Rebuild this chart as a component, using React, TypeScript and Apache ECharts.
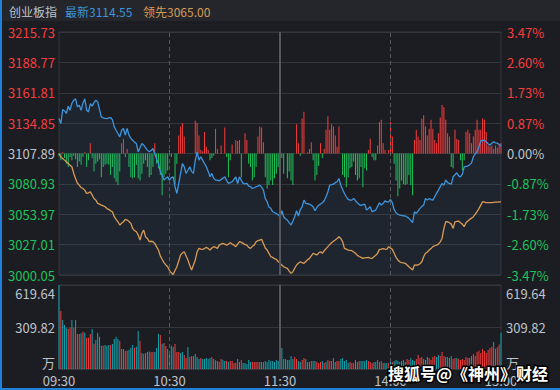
import React, { useEffect, useRef } from 'react';
import * as echarts from 'echarts';

// ---------- data ----------
const stockName = '创业板指';
const latestValue = '3114.55';
const leadValue = '3065.00';

const priceMin = 3000.05;
const priceMax = 3215.73;
const preClose = 3107.89;
const volMax = 619.64;

const leftTickLabels = ['3000.05', '3027.01', '3053.97', '3080.93', '3107.89', '3134.85', '3161.81', '3188.77', '3215.73'];
const rightTickLabels = ['-3.47%', '-2.60%', '-1.73%', '-0.87%', '0.00%', '0.87%', '1.73%', '2.60%', '3.47%'];
const volTickLabels = ['万', '309.82', '619.64'];

// minute categories 09:30..11:30, 13:01..15:00
const minutes: string[] = [];
for (let i = 0; i <= 120; i++) {
  const t = 9 * 60 + 30 + i;
  minutes.push(String(Math.floor(t / 60)).padStart(2, '0') + ':' + String(t % 60).padStart(2, '0'));
}
for (let i = 1; i <= 120; i++) {
  const t = 13 * 60 + i;
  minutes.push(String(Math.floor(t / 60)).padStart(2, '0') + ':' + String(t % 60).padStart(2, '0'));
}

const priceLine = [
  3138.9, 3134.5, 3146.9, 3145.7, 3143.4, 3150.0, 3146.3, 3152.5, 3155.2, 3156.4,
  3149.3, 3150.8, 3146.3, 3152.8, 3156.4, 3146.3, 3144.8, 3152.2, 3149.9, 3153.0,
  3155.2, 3153.7, 3146.9, 3140.4, 3139.5, 3139.0, 3138.9, 3139.5, 3139.8, 3138.0,
  3131.5, 3128.5, 3125.6, 3122.7, 3128.6, 3130.1, 3124.2, 3130.1, 3124.2, 3121.5,
  3119.7, 3118.0, 3116.8, 3109.4, 3113.0, 3116.8, 3115.3, 3113.0, 3110.9, 3109.4,
  3110.5, 3112.3, 3107.9, 3103.0, 3099.0, 3092.0, 3088.7, 3084.3, 3086.0, 3087.2,
  3084.3, 3086.5, 3087.2, 3078.4, 3072.4, 3081.3, 3090.0, 3099.0, 3096.1, 3090.2,
  3093.0, 3096.1, 3092.0, 3090.2, 3102.0, 3109.4, 3102.0, 3105.0, 3102.0, 3099.0,
  3096.1, 3092.0, 3087.2, 3090.2, 3086.0, 3084.3, 3084.3, 3083.5, 3084.9, 3086.0,
  3087.2, 3084.0, 3081.3, 3082.0, 3082.8, 3085.0, 3087.2, 3081.3, 3087.2, 3084.0,
  3081.3, 3081.0, 3081.3, 3079.0, 3078.4, 3076.9, 3077.5, 3078.4, 3079.0, 3079.8,
  3078.0, 3075.4, 3068.0, 3065.1, 3060.5, 3059.2, 3056.2, 3055.5, 3054.7, 3053.5,
  3051.8, 3057.1, 3051.8, 3050.0, 3048.8, 3046.5, 3044.4, 3048.0, 3051.8, 3057.1,
  3052.4, 3058.0, 3060.6, 3066.5, 3063.6, 3063.3, 3063.0, 3062.0, 3060.6, 3057.1,
  3060.0, 3062.0, 3063.0, 3064.2, 3066.0, 3069.5, 3073.9, 3079.8, 3080.2, 3080.7,
  3082.0, 3082.8, 3085.7, 3079.8, 3076.0, 3072.4, 3069.5, 3067.1, 3066.5, 3066.5,
  3068.0, 3066.0, 3064.2, 3062.5, 3061.8, 3062.5, 3063.0, 3057.7, 3059.0, 3060.6,
  3056.2, 3057.0, 3057.7, 3061.0, 3064.2, 3062.1, 3063.5, 3065.9, 3065.0, 3065.0,
  3067.1, 3064.2, 3058.0, 3055.3, 3054.0, 3053.2, 3053.0, 3052.6, 3052.4, 3051.5,
  3050.3, 3048.5, 3046.5, 3056.2, 3054.7, 3057.0, 3059.2, 3061.0, 3062.1, 3068.0,
  3066.5, 3068.0, 3067.0, 3066.5, 3069.5, 3072.5, 3075.4, 3078.5, 3081.3, 3079.8,
  3084.3, 3082.0, 3081.3, 3080.7, 3087.2, 3089.0, 3090.8, 3088.0, 3087.2, 3089.6,
  3096.1, 3096.5, 3096.7, 3098.0, 3099.6, 3105.0, 3107.5, 3109.4, 3113.8, 3119.1,
  3119.5, 3119.7, 3118.2, 3116.5, 3115.3, 3117.0, 3118.2, 3117.4, 3117.0, 3116.0,
  3114.55,
];

const leadLine = [
  3107.9, 3104.9, 3103.5, 3102.0, 3100.5, 3099.0, 3097.5, 3096.1, 3090.2, 3085.7,
  3081.5, 3079.8, 3077.5, 3076.9, 3075.4, 3072.4, 3073.0, 3073.9, 3071.0, 3068.0,
  3066.5, 3063.6, 3063.0, 3062.1, 3061.5, 3060.6, 3059.0, 3058.3, 3057.0, 3056.2,
  3051.8, 3049.5, 3047.3, 3044.4, 3046.0, 3047.3, 3049.4, 3048.8, 3047.5, 3045.9,
  3041.4, 3039.5, 3038.5, 3035.5, 3031.1, 3037.0, 3039.9, 3034.0, 3032.5, 3029.6,
  3030.0, 3029.6, 3028.1, 3025.0, 3022.2, 3017.0, 3014.0, 3011.0, 3009.0, 3007.4,
  3004.0, 3002.0, 3000.5, 3004.0, 3007.4, 3012.5, 3017.8, 3019.5, 3020.7, 3017.0,
  3013.3, 3008.5, 3004.5, 3009.0, 3013.3, 3020.7, 3023.7, 3023.0, 3022.8, 3023.5,
  3024.6, 3023.5, 3022.2, 3024.0, 3025.2, 3024.5, 3023.7, 3026.6, 3027.5, 3028.1,
  3027.5, 3026.6, 3027.5, 3028.7, 3027.5, 3026.6, 3025.2, 3027.5, 3029.6, 3029.0,
  3028.1, 3027.0, 3026.6, 3024.5, 3023.7, 3025.5, 3026.6, 3029.6, 3030.5, 3031.1,
  3031.7, 3028.1, 3024.0, 3022.2, 3019.3, 3016.3, 3015.7, 3014.5, 3013.9, 3012.0,
  3010.4, 3009.0, 3007.4, 3006.5, 3005.9, 3003.5, 3001.5, 3003.0, 3006.0, 3008.9,
  3010.5, 3011.8, 3011.0, 3010.4, 3012.0, 3013.5, 3014.8, 3017.0, 3019.3, 3018.5,
  3017.8, 3019.5, 3020.7, 3019.3, 3021.6, 3023.5, 3025.2, 3027.0, 3028.7, 3030.0,
  3031.1, 3032.5, 3034.0, 3032.5, 3029.6, 3023.7, 3023.0, 3022.2, 3021.9, 3021.6,
  3020.5, 3019.3, 3017.5, 3016.5, 3015.7, 3014.8, 3015.2, 3015.5, 3015.7, 3015.0,
  3014.8, 3016.3, 3017.5, 3019.3, 3022.8, 3023.0, 3023.4, 3023.0, 3022.8, 3025.2,
  3024.0, 3022.8, 3019.3, 3015.7, 3013.4, 3011.8, 3011.0, 3010.8, 3010.4, 3009.0,
  3007.4, 3006.0, 3004.5, 3008.9, 3009.0, 3008.9, 3010.0, 3011.8, 3016.3, 3019.3,
  3020.5, 3022.2, 3023.5, 3025.2, 3026.0, 3026.6, 3027.5, 3029.5, 3032.5, 3041.4,
  3047.3, 3047.3, 3046.5, 3045.2, 3041.4, 3047.3, 3047.6, 3047.9, 3046.5, 3045.2,
  3042.9, 3046.4, 3048.0, 3049.4, 3050.5, 3051.8, 3054.0, 3056.2, 3059.0, 3062.1,
  3065.1, 3064.8, 3064.2, 3064.2, 3064.2, 3064.2, 3064.5, 3064.8, 3064.8, 3065.0,
  3065.0,
];

// buy/sell strength bars, in index points relative to the previous close
const breadth = [
  -2, -6, 1, -4, -9, -12, -3, -6, -2, -5,
  -12, -7, -10, -3, 1, -12, -6, 9, -4, -16,
  -9, -7, -5, -21, -12, -10, -9, -10, -19, -12,
  -22, -25, -28, -16, 9, 13, -3, 4, -12, -21,
  -22, -21, -10, -22, -24, -18, -9, -6, -12, -21,
  -19, -12, 9, -9, -13, -19, -37, -21, -18, -15,
  3, -3, 0, -27, -9, 16, 24, 27, 15, 0,
  0, 0, 0, 0, 29, 27, 16, 3, 2, 19,
  6, 3, -6, -4, -2, 22, 4, 0, 7, 0,
  23, -3, -21, -6, 8, 0, 12, 11, 12, -21,
  0, 18, 12, -9, -12, -24, -21, -12, 15, 24,
  23, 10, -21, -31, -28, -24, -28, -22, -18, -12,
  -24, -4, -18, 0, -22, -16, -24, -28, 0, 26,
  9, -2, 31, 37, 0, 1, 4, 10, -6, -24,
  -19, -11, 9, -4, 4, 21, 33, 21, 26, 24,
  16, 6, 24, 0, -19, -21, -30, -21, -13, -12,
  -7, -19, -24, -22, -12, -30, -13, -15, 3, 13,
  -3, -6, -6, 7, 28, 30, 9, 3, 0, 3,
  28, 15, -9, -24, -38, -31, -24, -27, -28, -27,
  -19, -28, -37, 12, 21, 15, 12, 31, 34, 24,
  16, 22, 30, 22, 12, 9, 18, 32, 43, 41,
  30, 18, 15, -12, -13, 21, 13, 12, -6, -15,
  -6, 19, 21, 18, 9, 15, 21, 30, 21, 21,
  31, 30, 19, 7, 6, 7, 4, 7, 5, 8,
  9,
];

// volume (万)
const volume = [
  619, 428, 361, 324, 300, 295, 305, 361, 305, 361,
  258, 258, 263, 275, 268, 231, 231, 258, 295, 187,
  214, 268, 238, 172, 172, 177, 172, 177, 177, 184,
  221, 238, 221, 209, 147, 147, 135, 135, 140, 157,
  177, 155, 165, 280, 209, 118, 111, 118, 125, 130,
  125, 125, 125, 155, 258, 251, 184, 192, 170, 147,
  133, 172, 165, 184, 125, 125, 118, 125, 103, 81,
  162, 88, 96, 96, 111, 88, 74, 81, 74, 74,
  81, 74, 81, 88, 74, 64, 59, 52, 74, 66,
  59, 59, 52, 59, 59, 44, 44, 74, 52, 66,
  44, 44, 37, 66, 52, 52, 52, 52, 52, 52,
  52, 52, 59, 52, 66, 59, 59, 52, 66, 59,
  66, 155, 74, 74, 66, 66, 96, 74, 88, 74,
  59, 52, 66, 81, 74, 52, 52, 59, 59, 59,
  52, 44, 52, 59, 44, 52, 66, 59, 59, 81,
  52, 59, 59, 74, 81, 59, 66, 44, 52, 44,
  44, 66, 52, 59, 59, 59, 59, 66, 59, 52,
  44, 52, 52, 66, 52, 59, 44, 44, 44, 44,
  59, 52, 59, 66, 59, 52, 59, 66, 52, 74,
  66, 81, 66, 59, 74, 103, 81, 88, 74, 66,
  88, 81, 66, 88, 96, 88, 103, 96, 125, 96,
  88, 88, 81, 96, 74, 81, 81, 74, 66, 74,
  66, 88, 81, 81, 96, 111, 96, 125, 135, 118,
  147, 133, 118, 140, 155, 165, 199, 150, 160, 180,
  268,
];

// 1 = up minute (red), 0 = down minute (teal)
const volumeUp = (
  '0100011010' + '1101011101' + '0000100010' + '0001001100' + '0100101100' +
  '1100010110' + '0001110011' + '0111000100' + '0001010110' + '0101111011' +
  '0000011110' + '0100000000' + '0000000011' + '0011001100' + '1110101110' +
  '0110000011' + '1001000011' + '1001101001' + '0100000001' + '1000111100' +
  '0111100111' + '0100110111' + '1110111111' + '1111110111' + '0'
).split('').map(Number);

const watermark = '搜狐号@《神州》财经';

// ---------- style ----------
const FONT = '"Noto Sans CJK SC", "Noto Sans", sans-serif';
const BG = '#1c1d22';
const GRID = '#34363b';
const RED = '#f63d3d';
const GREEN = '#1dc45b';
const GRAY = '#bfc3ca';
const TEAL = '#14a3ae';
const BLUE = '#3c95de';
const ORANGE = '#d99a55';

const tickColor = (v: number) => (v < 4 ? GREEN : v === 4 ? GRAY : RED);

const vLines = (grid: number) => ({
  symbol: ['none', 'none'],
  silent: true,
  label: { show: false },
  animation: false,
  data: [
    { xAxis: '10:30', lineStyle: { type: [4, 3], color: '#56585e', width: 1 } },
    { xAxis: '11:30', lineStyle: { type: 'solid', color: '#56585e', width: 2 } },
    { xAxis: '14:00', lineStyle: { type: [4, 3], color: '#56585e', width: 1 } },
  ],
});

export default function App() {
  const ref = useRef<HTMLDivElement>(null);
  useEffect(() => {
    if (!ref.current) return;
    const chart = echarts.init(ref.current, null, { renderer: 'svg' });
    const half = preClose - priceMin;
    const option: any = {
      animation: false,
      backgroundColor: BG,
      textStyle: { fontFamily: FONT },
      grid: [
        { left: 59, right: 59, top: 32, height: 243, show: true, borderColor: GRID, borderWidth: 1, backgroundColor: 'transparent' },
        { left: 59, right: 59, top: 285, height: 84, show: true, borderColor: GRID, borderWidth: 1, backgroundColor: 'transparent' },
      ],
      xAxis: [
        {
          type: 'category', gridIndex: 0, data: minutes, boundaryGap: false,
          axisLine: { show: false }, axisTick: { show: false }, axisLabel: { show: false }, splitLine: { show: false },
        },
        {
          type: 'category', gridIndex: 1, data: minutes, boundaryGap: false,
          axisLine: { show: false }, axisTick: { show: false }, splitLine: { show: false },
          axisLabel: {
            show: true, interval: (i: number) => i % 60 === 0, color: GRAY, fontSize: 13, margin: 5,
            fontFamily: FONT, showMinLabel: true, showMaxLabel: true,
          },
        },
      ],
      yAxis: [
        {
          type: 'value', gridIndex: 0, position: 'left', min: 0, max: 8, interval: 1,
          axisLine: { show: false }, axisTick: { show: false },
          splitLine: { show: true, lineStyle: { color: GRID, width: 1 } },
          axisLabel: {
            formatter: (v: number) => leftTickLabels[Math.round(v)], color: (v: any) => tickColor(Number(v)),
            fontSize: 13, margin: 4, fontFamily: FONT, showMinLabel: true, showMaxLabel: true,
          },
        },
        {
          type: 'value', gridIndex: 0, position: 'right', min: 0, max: 8, interval: 1,
          axisLine: { show: false }, axisTick: { show: false }, splitLine: { show: false },
          axisLabel: {
            formatter: (v: number) => rightTickLabels[Math.round(v)], color: (v: any) => tickColor(Number(v)),
            fontSize: 13, margin: 6, fontFamily: FONT, showMinLabel: true, showMaxLabel: true,
          },
        },
        { type: 'value', gridIndex: 0, min: priceMin, max: priceMax, show: false, splitLine: { show: false } },
        { type: 'value', gridIndex: 0, min: -half, max: half, show: false, splitLine: { show: false } },
        {
          type: 'value', gridIndex: 1, position: 'left', min: 0, max: 2, interval: 1,
          axisLine: { show: false }, axisTick: { show: false },
          splitLine: { show: true, lineStyle: { color: GRID, width: 1 } },
          axisLabel: {
            formatter: (v: number) => (v === 2 ? '{t|' + volTickLabels[2] + '}' : v === 0 ? '{b|' + volTickLabels[0] + '}' : '{m|' + volTickLabels[1] + '}'),
            margin: 4, showMinLabel: true, showMaxLabel: true,
            rich: {
              t: { color: GRAY, fontSize: 13, fontFamily: FONT, padding: [17, 0, 0, 0] },
              m: { color: GRAY, fontSize: 13, fontFamily: FONT },
              b: { color: GRAY, fontSize: 13, fontFamily: FONT, padding: [0, 0, 14, 0] },
            },
          },
        },
        {
          type: 'value', gridIndex: 1, position: 'right', min: 0, max: 2, interval: 1,
          axisLine: { show: false }, axisTick: { show: false }, splitLine: { show: false },
          axisLabel: {
            formatter: (v: number) => (v === 2 ? '{t|' + volTickLabels[2] + '}' : v === 0 ? '{b|' + volTickLabels[0] + '}' : '{m|' + volTickLabels[1] + '}'),
            margin: 5, showMinLabel: true, showMaxLabel: true,
            rich: {
              t: { color: GRAY, fontSize: 13, fontFamily: FONT, padding: [17, 0, 0, 0] },
              m: { color: GRAY, fontSize: 13, fontFamily: FONT },
              b: { color: GRAY, fontSize: 13, fontFamily: FONT, padding: [0, 0, 14, 0] },
            },
          },
        },
        { type: 'value', gridIndex: 1, min: 0, max: volMax, show: false, splitLine: { show: false } },
      ],
      series: [
        {
          name: 'strength', type: 'bar', xAxisIndex: 0, yAxisIndex: 3, barWidth: 1, silent: true,
          data: breadth.map((v) => ({ value: v, itemStyle: { color: v >= 0 ? RED : GREEN } })),
        },
        {
          name: 'price', type: 'line', xAxisIndex: 0, yAxisIndex: 2, data: priceLine, symbol: 'none',
          lineStyle: { color: BLUE, width: 1.3 },
          areaStyle: { origin: 'start', color: 'rgba(70,120,175,0.13)' },
          markLine: vLines(0), z: 3,
        },
        {
          name: 'lead', type: 'line', xAxisIndex: 0, yAxisIndex: 2, data: leadLine, symbol: 'none',
          lineStyle: { color: ORANGE, width: 1.3 }, z: 3,
        },
        {
          name: 'volume', type: 'bar', xAxisIndex: 1, yAxisIndex: 6, barWidth: 1, silent: true,
          data: volume.map((v, i) => ({ value: v, itemStyle: { color: volumeUp[i] ? RED : TEAL } })),
          markLine: vLines(1),
        },
      ],
      graphic: [
        { type: 'rect', left: 0, top: 0, shape: { width: 560, height: 21 }, style: { fill: '#24262b' }, z: -1 },
        { type: 'text', x: 9, y: 11, style: { text: stockName, fill: GRAY, font: '12px ' + FONT, verticalAlign: 'middle' } },
        { type: 'text', x: 65, y: 11, style: { text: '最新' + latestValue, fill: BLUE, font: '12px ' + FONT, verticalAlign: 'middle' } },
        { type: 'text', x: 143, y: 11, style: { text: '领先' + leadValue, fill: ORANGE, font: '12px ' + FONT, verticalAlign: 'middle' } },
        { type: 'rect', x: 0, y: 0, shape: { width: 2, height: 390 }, style: { fill: '#1e82dc' }, z: 100 },
        { type: 'rect', x: 0, y: 388, shape: { width: 560, height: 2 }, style: { fill: '#1e82dc' }, z: 100 },
        {
          type: 'text', x: 388, y: 373, z: 100,
          style: {
            text: watermark, fill: '#ffffff', font: 'bold 16px ' + FONT, verticalAlign: 'middle',
            stroke: '#000000', lineWidth: 3, strokeFirst: true,
          },
        },
      ],
    };
    chart.setOption(option);
    return () => chart.dispose();
  }, []);
  return <div ref={ref} style={{ position: 'absolute', left: 0, top: 0, width: 560, height: 390 }} />;
}
